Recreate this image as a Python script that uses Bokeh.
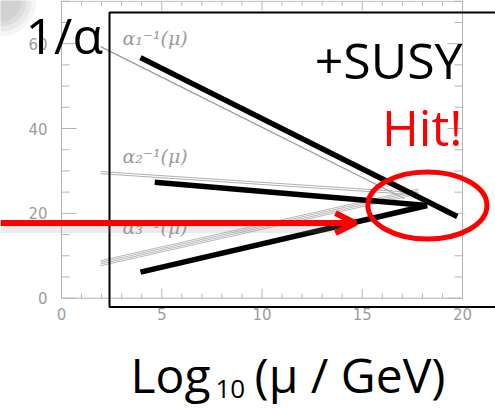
import numpy as np
from bokeh.plotting import figure
from bokeh.models import Range1d, Arrow, OpenHead
from bokeh.core.properties import value
from bokeh.embed import file_html
from bokeh.resources import INLINE

# ---- data ----
x_ticks = [0, 5, 10, 15, 20]
x_tick_labels = ["0", "5", "10", "15", "20"]
y_ticks = [0, 20, 40, 60]
y_tick_labels = ["0", "20", "40", "60"]

# Standard-Model running couplings (grey lines of the original plot)
sm_a1_x = [1.95, 17.1]
sm_a1_y = [59.3, 23.5]
sm_a2_x = [1.95, 17.8]
sm_a2_y = [29.6, 24.6]
sm_a3_x = [1.95, 17.8]
sm_a3_y = [8.25, 25.15]

# +SUSY running couplings (thick black lines)
susy_a1_x = [3.94, 19.74]
susy_a1_y = [56.7, 19.25]
susy_a2_x = [4.65, 18.24]
susy_a2_y = [27.35, 21.85]
susy_a3_x = [3.94, 18.24]
susy_a3_y = [6.13, 21.85]

# unification point ("Hit!")
hit_x = 18.25
hit_y = 21.85

coupling_labels = ["α₁⁻¹(μ)", "α₂⁻¹(μ)", "α₃⁻¹(μ)"]

# ---- figure: whole canvas is the data frame ----
XPX = 20.05     # px per x unit
YPX = 4.2425    # px per y unit
X0, Y0 = 61.0, 297.7   # pixel position of the origin
W, H = 495, 408
p = figure(width=W, height=H, output_backend="svg", toolbar_location=None,
           x_range=Range1d(-X0 / XPX, (W - X0) / XPX),
           y_range=Range1d(-(H - Y0) / YPX, Y0 / YPX),
           min_border=0, margin=(0, 0, 0, 0))
p.axis.visible = False
p.xgrid.visible = False
p.ygrid.visible = False
p.outline_line_color = None
p.background_fill_color = "white"

# top-left soft shadow of the slide picture
for r, a in [(72, 0.08), (62, 0.10), (52, 0.12), (42, 0.12)]:
    p.ellipse(x=[-X0 / XPX], y=[Y0 / YPX], width=r, height=r, width_units="screen",
              height_units="screen", fill_color="#808080", fill_alpha=a, line_color=None)

# ---- original plot axes (grey) ----
axis_col = "#b4b4b4"
p.segment(x0=[0, 0, 20, 0], y0=[0, 0, 0, 70], x1=[0, 20, 20, 20], y1=[70, 0, 70, 70],
          line_color=axis_col, line_width=1)
xt = np.arange(0, 21)
xlen = np.where(xt % 5 == 0, 9.4 / YPX, 4.4 / YPX)
p.segment(x0=xt, y0=np.zeros_like(xt, dtype=float), x1=xt, y1=xlen, line_color=axis_col)
p.segment(x0=xt, y0=np.full(len(xt), 70.0), x1=xt, y1=70 - xlen, line_color=axis_col)
yt = np.arange(0, 71, 5)
ylen = np.where(yt % 20 == 0, 15 / XPX, 8 / XPX)
p.segment(x0=np.zeros(len(yt)), y0=yt, x1=ylen, y1=yt, line_color=axis_col)
p.segment(x0=np.full(len(yt), 20.0), y0=yt, x1=20 - ylen, y1=yt, line_color=axis_col)

lab_col = "#9c9c9c"
p.text(x=x_ticks, y=[-15.3 / YPX] * len(x_ticks), text=x_tick_labels,
       text_align="center", text_baseline="middle", text_color=lab_col,
       text_font=value("DejaVu Sans"), text_font_size="15px")
p.text(x=[-14 / XPX] * len(y_ticks), y=y_ticks, text=y_tick_labels,
       text_align="right", text_baseline="middle", text_color=lab_col,
       text_font=value("DejaVu Sans"), text_font_size="15px")
p.text(x=[3.04] * 3, y=[61.4, 33.6, 16.9], text=coupling_labels,
       text_align="left", text_baseline="middle", text_color=lab_col,
       text_font=value("DejaVu Serif"), text_font_style="italic", text_font_size="19px")

# grey SM lines
sm_col = "#9a9a9a"
p.line(sm_a1_x, sm_a1_y, line_color=sm_col, line_width=1.2)
for d in (-0.25, 0.25):
    p.line(sm_a2_x, [v + d for v in sm_a2_y], line_color="#b0b0b0", line_width=1)
for d in (-0.6, -0.2, 0.2, 0.6):
    p.line(sm_a3_x, [v + d for v in sm_a3_y], line_color="#b8b8b8", line_width=1)

# slide frame
p.quad(left=[(109 - X0) / XPX], right=[(W + 20 - X0) / XPX],
       top=[(Y0 - 12) / YPX], bottom=[(Y0 - 306.5) / YPX],
       fill_color=None, line_color="black", line_width=2)

# thick black SUSY lines
for xs, ys in [(susy_a1_x, susy_a1_y), (susy_a2_x, susy_a2_y), (susy_a3_x, susy_a3_y)]:
    p.line(xs, ys, line_color="black", line_width=5.5)

# red arrow (with soft shadow)
arrow_y = 17.7
arrow_tip = 14.66
p.line([-X0 / XPX, arrow_tip - 0.6], [arrow_y - 1.3, arrow_y - 1.3],
       line_color="#888888", line_alpha=0.18, line_width=9)
p.add_layout(Arrow(end=OpenHead(line_color="red", line_width=6, size=20),
                   x_start=-X0 / XPX, y_start=arrow_y, x_end=arrow_tip, y_end=arrow_y,
                   line_color="red", line_width=6))

# red ellipse around the unification point
p.ellipse(x=[hit_x], y=[hit_y], width=5.94, height=15.8,
          fill_color=None, line_color="red", line_width=5)

# slide texts (baseline pixel positions, corrected for the renderer's offset)
big_font = value("Open Sans")


def slide_text(px, base_py, txt, size, color="black", align="left"):
    py = base_py - 0.42 * size
    p.text(x=[(px - X0) / XPX], y=[(Y0 - py) / YPX], text=[txt], text_align=align,
           text_baseline="alphabetic", text_color=color, text_font=big_font,
           text_font_size=f"{size}px")


slide_text(25, 55, "1/α", 50)
slide_text(462, 80, "+SUSY", 50, align="right")
slide_text(462, 147, "Hit!", 50, color="red", align="right")
slide_text(130, 394, "Log", 48)
slide_text(215, 399, "10", 26)
slide_text(254, 394, "(μ / GeV)", 48)

open("out.html", "w").write(file_html(p, INLINE))
